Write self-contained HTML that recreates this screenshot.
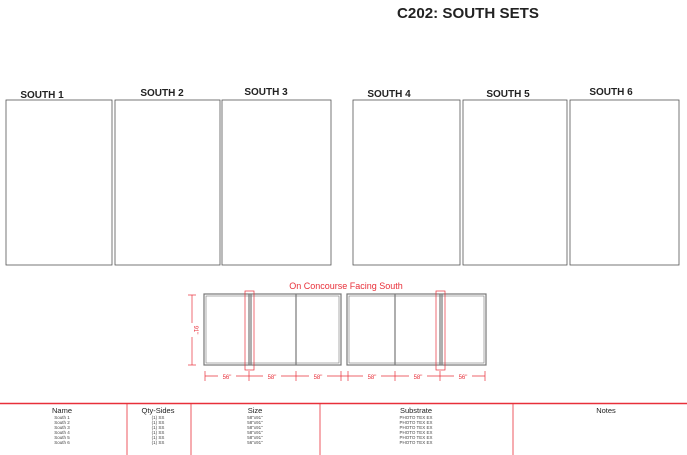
<!DOCTYPE html>
<html><head><style>body{margin:0;background:#fff}svg{display:block}</style></head><body>
<svg width="687" height="455" viewBox="0 0 687 455" xmlns="http://www.w3.org/2000/svg" font-family="Liberation Sans, sans-serif">
<text x="468" y="18" font-size="15" font-weight="bold" text-anchor="middle" fill="#222" textLength="142" lengthAdjust="spacingAndGlyphs">C202: SOUTH SETS</text>
<g font-size="10" font-weight="bold" fill="#222" text-anchor="middle">
<text x="42" y="98">SOUTH 1</text><text x="162" y="96">SOUTH 2</text><text x="266" y="95">SOUTH 3</text>
<text x="389" y="97">SOUTH 4</text><text x="508" y="97">SOUTH 5</text><text x="611" y="95">SOUTH 6</text>
</g>
<g fill="none" stroke="#555" stroke-width="0.8">
<rect x="6" y="100" width="106" height="165"/><rect x="115" y="100" width="105" height="165"/><rect x="222" y="100" width="109" height="165"/>
<rect x="353" y="100" width="107" height="165"/><rect x="463" y="100" width="104" height="165"/><rect x="570" y="100" width="109" height="165"/>
</g>
<text x="346" y="289" font-size="9" fill="#e8303a" text-anchor="middle">On Concourse Facing South</text>
<g fill="none" stroke="#777" stroke-width="1.2">
<rect x="204" y="294" width="137" height="71"/><rect x="206" y="296" width="133" height="67" stroke-width="0.6"/>
<rect x="347" y="294" width="139" height="71"/><rect x="349" y="296" width="135" height="67" stroke-width="0.6"/>
<line x1="249" y1="294" x2="249" y2="365"/><line x1="251" y1="294" x2="251" y2="365"/>
<line x1="296" y1="294" x2="296" y2="365"/>
<line x1="395" y1="294" x2="395" y2="365"/>
<line x1="440" y1="294" x2="440" y2="365"/><line x1="442" y1="294" x2="442" y2="365"/>
</g>
<g fill="none" stroke="#e8303a" stroke-width="0.7">
<rect x="245" y="291" width="9" height="79"/><rect x="436" y="291" width="9" height="79"/>
<line x1="192" y1="295" x2="192" y2="365"/><line x1="188" y1="295" x2="196" y2="295"/><line x1="188" y1="365" x2="196" y2="365"/>
<line x1="205" y1="376" x2="485" y2="376"/>
<line x1="205" y1="371" x2="205" y2="381"/><line x1="249" y1="371" x2="249" y2="381"/><line x1="296" y1="371" x2="296" y2="381"/><line x1="341" y1="371" x2="341" y2="381"/>
<line x1="348" y1="371" x2="348" y2="381"/><line x1="395" y1="371" x2="395" y2="381"/><line x1="440" y1="371" x2="440" y2="381"/><line x1="485" y1="371" x2="485" y2="381"/>
</g>
<g font-size="6" fill="#e8303a" text-anchor="middle">
<rect x="218" y="372" width="18" height="8" fill="#fff"/><text x="227" y="379">56"</text>
<rect x="263" y="372" width="18" height="8" fill="#fff"/><text x="272" y="379">58"</text>
<rect x="309" y="372" width="18" height="8" fill="#fff"/><text x="318" y="379">58"</text>
<rect x="363" y="372" width="18" height="8" fill="#fff"/><text x="372" y="379">58"</text>
<rect x="409" y="372" width="18" height="8" fill="#fff"/><text x="418" y="379">58"</text>
<rect x="454" y="372" width="18" height="8" fill="#fff"/><text x="463" y="379">56"</text>
<rect x="188" y="323" width="8" height="14" fill="#fff"/><text x="0" y="0" transform="translate(194,330) rotate(90)">91"</text>
</g>
<line x1="0" y1="403.5" x2="687" y2="403.5" stroke="#e8303a" stroke-width="1.5"/>
<g stroke="#e8303a" stroke-width="0.8">
<line x1="127" y1="404" x2="127" y2="455"/><line x1="191" y1="404" x2="191" y2="455"/><line x1="320" y1="404" x2="320" y2="455"/><line x1="513" y1="404" x2="513" y2="455"/>
</g>
<g font-size="7.5" fill="#222" text-anchor="middle">
<text x="62" y="413">Name</text><text x="158" y="413">Qty-Sides</text><text x="255" y="413">Size</text><text x="416" y="413">Substrate</text><text x="606" y="413">Notes</text>
</g>
<g font-size="4.5" fill="#444" text-anchor="middle">
<text x="62" y="419">South 1</text><text x="62" y="424">South 2</text><text x="62" y="429">South 3</text><text x="62" y="434">South 4</text><text x="62" y="439">South 5</text><text x="62" y="444">South 6</text>
<text x="158" y="419">(1) SS</text><text x="158" y="424">(1) SS</text><text x="158" y="429">(1) SS</text><text x="158" y="434">(1) SS</text><text x="158" y="439">(1) SS</text><text x="158" y="444">(1) SS</text>
<text x="255" y="419">58"x91"</text><text x="255" y="424">58"x91"</text><text x="255" y="429">58"x91"</text><text x="255" y="434">58"x91"</text><text x="255" y="439">58"x91"</text><text x="255" y="444">56"x91"</text>
<text x="416" y="419">PHOTO TEX EX</text><text x="416" y="424">PHOTO TEX EX</text><text x="416" y="429">PHOTO TEX EX</text><text x="416" y="434">PHOTO TEX EX</text><text x="416" y="439">PHOTO TEX EX</text><text x="416" y="444">PHOTO TEX EX</text>
</g>
</svg>
</body></html>
